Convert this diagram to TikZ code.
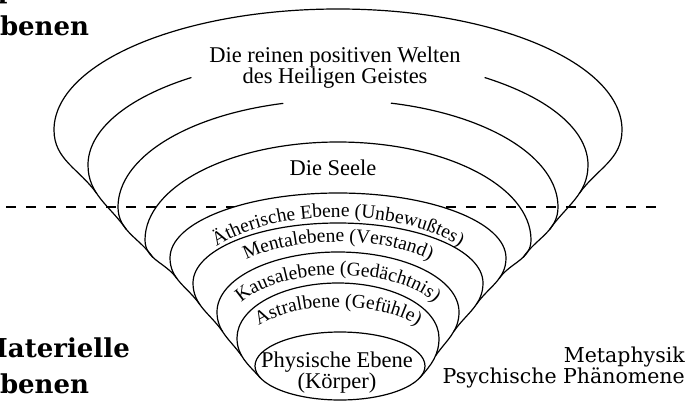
\documentclass[tikz,border=0pt]{standalone}
\usepackage{fontspec}
\setmainfont{Liberation Serif}
\newfontfamily\labelfont{DejaVu Serif}
\usetikzlibrary{calc,decorations.text,backgrounds}

\newcommand\ringfont{\fontsize{19.5bp}{21bp}\selectfont}
\tikzset{
  ring/.style={line width=1.2bp},
  maintext/.style={font=\fontsize{22.5bp}{21bp}\selectfont, inner sep=0pt},
  sidetext/.style={font=\labelfont\fontsize{20.5bp}{21bp}\selectfont, inner sep=0pt},
  zonetext/.style={font=\labelfont\bfseries\fontsize{26bp}{36bp}\selectfont, inner sep=0pt},
  arctext/.style={decorate, decoration={text along path, text align=center, text={|\ringfont|#1}}}
}

\begin{document}
\begin{tikzpicture}[x=1bp, y=1bp, line join=round, line cap=round]
  \useasboundingbox (0,0) rectangle (688,404);

  % Physische Ebene
  \coordinate (c9) at (340,38);
  \draw[ring] (c9) ellipse[x radius=85bp, y radius=34bp];
  \coordinate (J8l) at ([shift={(200:85bp and 34bp)}]c9);
  \coordinate (J8r) at ([shift={(-20:85bp and 34bp)}]c9);

  % Astralebene
  \draw[ring] (J8l) to[out=132,in=-90] coordinate[pos=.6] (J7l) (237,66)
    arc[start angle=180, end angle=0, x radius=101bp, y radius=55bp]
    to[out=-90,in=48] coordinate[pos=.4] (J7r) (J8r);
  % Kausalebene
  \draw[ring] (J7l) to[out=125,in=-90] coordinate[pos=.6] (J6l) (217,92)
    arc[start angle=180, end angle=0, x radius=121bp, y radius=60bp]
    to[out=-90,in=55] coordinate[pos=.4] (J6r) (J7r);
  % Mentalebene
  \draw[ring] (J6l) to[out=125,in=-90] coordinate[pos=.6] (J5l) (193,121)
    arc[start angle=180, end angle=0, x radius=145bp, y radius=60bp]
    to[out=-90,in=55] coordinate[pos=.4] (J5r) (J6r);
  % Aetherische Ebene
  \draw[ring] (J5l) to[out=125,in=-90] coordinate[pos=.6] (J4l) (170,146)
    arc[start angle=180, end angle=0, x radius=168bp, y radius=65bp]
    to[out=-90,in=55] coordinate[pos=.4] (J4r) (J5r);
  % Seele
  \draw[ring] (J4l) to[out=125,in=-90] coordinate[pos=.6] (J3l) (145,164)
    arc[start angle=180, end angle=0, x radius=193bp, y radius=98bp]
    to[out=-90,in=55] coordinate[pos=.4] (J3r) (J4r);
  % offene Ringe oben
  \draw[ring] (J3l) to[out=125,in=-90] coordinate[pos=.6] (J2l) (118,197)
    arc[start angle=180, end angle=104.5, x radius=220bp, y radius=107bp];
  \draw[ring] (J3r) to[out=55,in=-90] coordinate[pos=.6] (J2r) (558,197)
    arc[start angle=0, end angle=76, x radius=220bp, y radius=107bp];
  \draw[ring] (J2l) to[out=125,in=-90] coordinate[pos=.6] (J1l) (88,239)
    arc[start angle=180, end angle=126, x radius=250bp, y radius=108bp];
  \draw[ring] (J2r) to[out=55,in=-90] coordinate[pos=.6] (J1r) (588,239)
    arc[start angle=0, end angle=54, x radius=250bp, y radius=108bp];
  % Heiliger Geist
  \draw[ring] (J1l) to[out=125,in=-90] (54,274)
    arc[start angle=180, end angle=0, x radius=284bp, y radius=121bp]
    to[out=-90,in=55] (J1r);

  % Grenze, innerhalb der Aetherischen Ebene verdeckt
  \coordinate (grenzeL) at (6,197);
  \coordinate (grenzeR) at (658,197);
  \begin{scope}[on background layer]
    \draw[ring, dash pattern=on 10bp off 10bp] (grenzeL) -- (grenzeR);
    \fill[white] (J5l) to[out=125,in=-90] (170,146)
      arc[start angle=180, end angle=0, x radius=168bp, y radius=65bp]
      to[out=-90,in=55] (J5r) -- cycle;
  \end{scope}

  % Beschriftung der Ringe
  \coordinate (t5) at (338,118);
  \coordinate (t6) at (338,116);
  \coordinate (t7) at (338,83);
  \coordinate (t8) at (338,55);
  \path[arctext={Ätherische Ebene (Unbewußtes)}] ([shift={(168:148bp and 69bp)}]t5)
    arc[start angle=168, end angle=12, x radius=148bp, y radius=69bp];
  \path[arctext={Mentalebene (Verstand)}] ([shift={(172:115bp and 46bp)}]t6)
    arc[start angle=172, end angle=8, x radius=115bp, y radius=46bp];
  \path[arctext={Kausalebene (Gedächtnis)}] ([shift={(175:105bp and 46bp)}]t7)
    arc[start angle=175, end angle=5, x radius=105bp, y radius=46bp];
  \path[arctext={Astralbene (Gefühle)}] ([shift={(175:95bp and 42bp)}]t8)
    arc[start angle=175, end angle=5, x radius=95bp, y radius=42bp];

  \node[maintext, anchor=base] (welten1) at (335,342) {Die reinen positiven Welten};
  \node[maintext, anchor=base] (welten2) at (335,321) {des Heiligen Geistes};
  \node[maintext, anchor=base] (seele) at (333,229) {Die Seele};
  \node[maintext, anchor=base] (physisch1) at (337,37) {Physische Ebene};
  \node[maintext, anchor=base] (physisch2) at (337,16) {(Körper)};

  \node[sidetext, anchor=base east] (meta) at (685,42) {Metaphysik};
  \node[sidetext, anchor=base east] (psych) at (685,21) {Psychische Phänomene};

  \node[zonetext, anchor=base west] (spir1) at (-21,405) {Spirituelle};
  \node[zonetext, anchor=base west] (spir2) at (-20,369) {Ebenen};
  \node[zonetext, anchor=base west] (mat1) at (-21,47) {Materielle};
  \node[zonetext, anchor=base west] (mat2) at (-20,11) {Ebenen};
\end{tikzpicture}
\end{document}
